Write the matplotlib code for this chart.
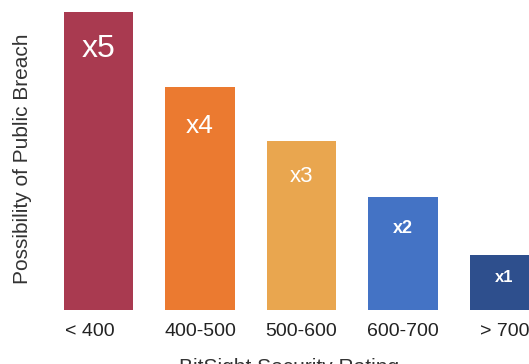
import matplotlib.pyplot as plt
from matplotlib.transforms import ScaledTranslation

plt.rcParams['font.family'] = ['Liberation Sans', 'DejaVu Sans']

# data
ratings = ['< 400', '400-500', '500-600', '600-700', '> 700']
breach = [5.42, 4.05, 3.07, 2.05, 1.0]
labels = ['x5', 'x4', 'x3', 'x2', 'x1']
colors = ['#A93A50', '#EB7A30', '#E9A64F', '#4473C5', '#2E4F8D']

# per-label text style: size, weight, offset below bar top (px)
lab_size = [23, 19, 16, 13, 12]
lab_weight = ['normal', 'normal', 'normal', 'bold', 'bold']
lab_off = [37, 39, 35, 31, 22]

fig = plt.figure(figsize=(5.29, 3.64), dpi=100)
W, H = 529, 364
ax = fig.add_axes([47.75 / W, 54 / H, 507.5 / W, 308 / H])

x = range(len(ratings))
bars = ax.bar(x, breach, width=0.68, color=colors)

for b, lab, s, w, off in zip(bars, labels, lab_size, lab_weight, lab_off):
    ax.annotate(lab, (b.get_x() + b.get_width() / 2, b.get_height()),
                xytext=(0, -off), textcoords='offset pixels',
                ha='center', va='center', color='white', fontsize=s, fontweight=w)

ax.set_xlim(-0.5, 4.5)
ax.set_ylim(0, 5.6)
ax.set_xticks(list(x))
ax.set_xticklabels(ratings, fontsize=14, color='#222222')
ax.tick_params(axis='x', length=0, pad=9.5)
# first label sits a bit left of its bar in the original
first = ax.get_xticklabels()[0]
first.set_transform(first.get_transform() + ScaledTranslation(-9 / 100, 0, fig.dpi_scale_trans))
ax.set_yticks([])
for sp in ax.spines.values():
    sp.set_visible(False)

ax.set_ylabel('Possibility of Public Breach', fontsize=15, color='#333333')
ax.yaxis.set_label_coords(-0.031, 0.49)
ax.set_xlabel('BitSight Security Rating', fontsize=15, color='#333333')
ax.xaxis.set_label_coords((289 - 47.75) / 507.5, -48 / 308)

fig.savefig('out.png', dpi=100)
